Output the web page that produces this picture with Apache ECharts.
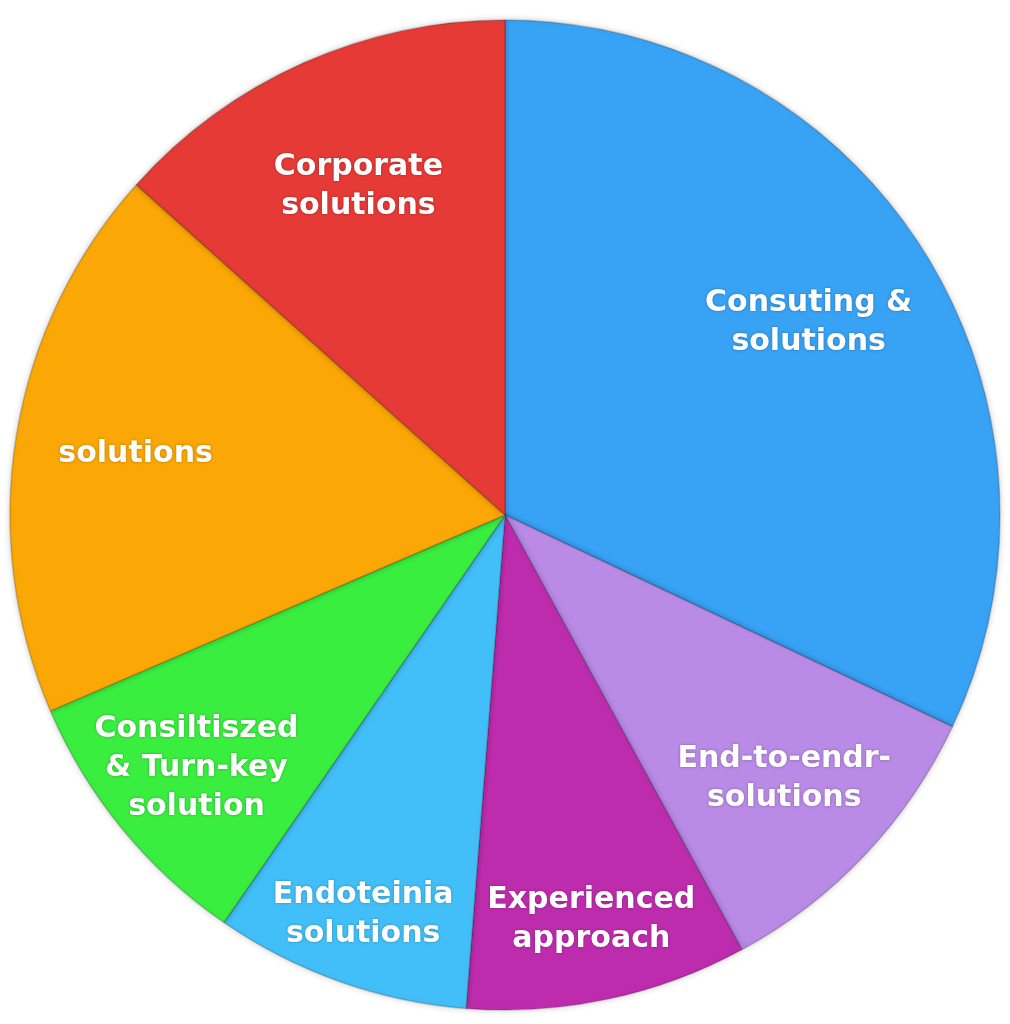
<!DOCTYPE html>
<html><head><meta charset="utf-8">
<script src="https://cdn.jsdelivr.net/npm/echarts@6/dist/echarts.min.js"></script>
<style>html,body{margin:0;padding:0;background:#fff}#c{width:1010px;height:1024px}</style>
</head><body><div id="c"></div>
<script>
// Clockwise from 12 o'clock
const categories = ['Consuting &\nsolutions','End-to-endr-\nsolutions','Experienced\napproach','Endoteinia\nsolutions','Consiltiszed\n& Turn-key\nsolution','solutions','Corporate\nsolutions'];
const values = [115, 36, 33, 30, 32, 65, 48];
const colors = ['#38A2F5','#B98AE6','#BE2CAE','#42BFF8','#3AEE40','#FBA705','#E63A36'];
// label distance from centre, as a fraction of the pie radius (layout only)
const labelFrac = [0.72, 0.77, 0.83, 0.85, 0.80, 0.75, 0.72];

const R = 495, CX = 505, CY = 515;
const chart = echarts.init(document.getElementById('c'));
const series = [{
  type:'pie', center:[CX,CY], radius:[0,R], startAngle:90, clockwise:true,
  silent:true, label:{show:false}, labelLine:{show:false},
  itemStyle:{borderColor:'rgba(0,0,0,0.18)', borderWidth:1.5, shadowBlur:6, shadowColor:'rgba(0,0,0,0.25)'},
  data:categories.map((n,i)=>({name:n, value:values[i], itemStyle:{color:colors[i]}}))
}];
categories.forEach((c,k)=>{
  series.push({
    type:'pie', center:[CX,CY], radius:[0, 2*labelFrac[k]*R], startAngle:90, clockwise:true,
    silent:true, labelLine:{show:false}, itemStyle:{color:'rgba(0,0,0,0)'}, z:5,
    label:{show:true, position:'inside', color:'#fff', fontFamily:'DejaVu Sans, sans-serif',
      fontWeight:'bold', fontSize:30, lineHeight:39, align:'center',
      textShadowColor:'rgba(0,0,0,0.3)', textShadowBlur:3, formatter:p=>p.name},
    data:categories.map((n,i)=>({name:n, value:values[i], label:{show:i===k}}))
  });
});
chart.setOption({animation:false, series});
</script></body></html>
